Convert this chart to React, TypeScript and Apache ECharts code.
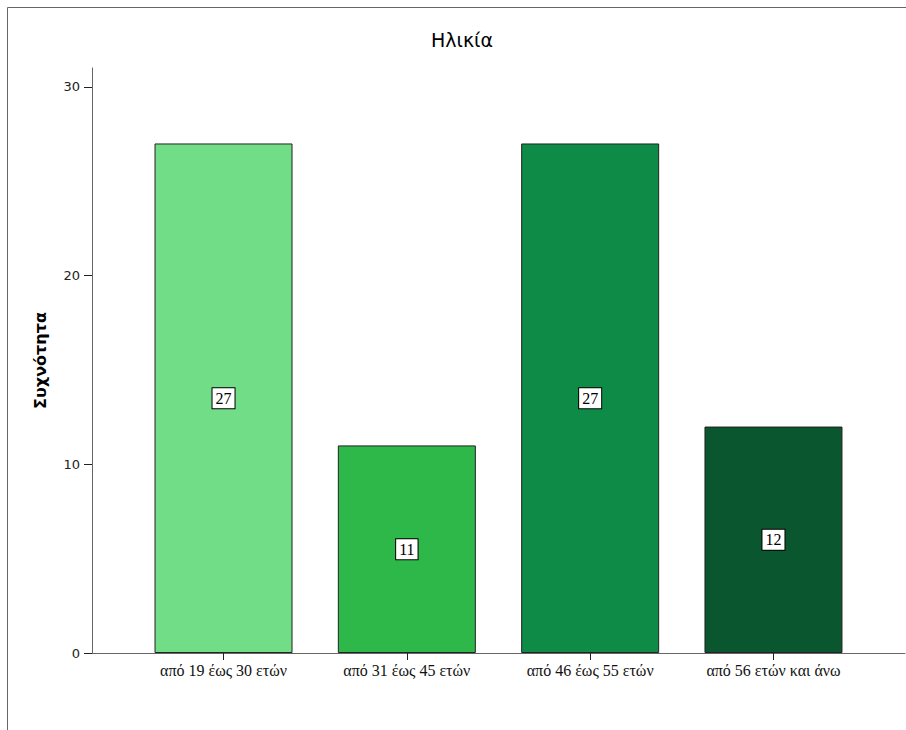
import React, { useEffect, useRef } from "react";
import * as echarts from "echarts";

const categories = ["από 19 έως 30 ετών", "από 31 έως 45 ετών", "από 46 έως 55 ετών", "από 56 ετών και άνω"];
const counts = [27, 11, 27, 12];
const barColors = ["#72DD87", "#2EB84A", "#0E8C47", "#0A562E"];
const yTicks = [0, 10, 20, 30];
const titleText = "Ηλικία";
const yName = "Συχνότητα";

export default function App() {
  const ref = useRef<HTMLDivElement>(null);
  useEffect(() => {
    if (!ref.current) return;
    const chart = echarts.init(ref.current, undefined, { renderer: "svg" });
    const positions = categories.map((_, i) => i);
    chart.setOption({
      animation: false,
      backgroundColor: "#ffffff",
      graphic: [
        {
          type: "rect",
          shape: { x: 7.5, y: 7.5, width: 1000, height: 1000 },
          style: { fill: "none", stroke: "#666", lineWidth: 1 },
          silent: true,
        },
        {
          type: "text",
          x: 462,
          y: 40,
          style: {
            text: titleText,
            font: '19px "DejaVu Sans"',
            fill: "#000",
            align: "center",
            verticalAlign: "middle",
          },
        },
      ],
      grid: { left: 92, top: 68, right: 1, bottom: 77, containLabel: false },
      xAxis: {
        type: "value",
        min: -0.7175,
        max: 3.7175,
        splitLine: { show: false },
        axisLine: { show: true, onZero: false, lineStyle: { color: "#666", width: 1 } },
        axisTick: {
          show: true,
          customValues: positions,
          length: 7,
          lineStyle: { color: "#222" },
        },
        axisLabel: {
          customValues: positions,
          formatter: (v: number) => categories[Math.round(v)] ?? "",
          fontFamily: '"Liberation Serif", serif',
          fontSize: 16,
          color: "#111",
          margin: 9,
        },
      },
      yAxis: {
        type: "value",
        min: 0,
        max: 31,
        interval: 10,
        name: yName,
        nameLocation: "middle",
        nameGap: 44,
        nameTextStyle: {
          fontFamily: '"DejaVu Sans"',
          fontWeight: "bold",
          fontSize: 16,
          color: "#000",
        },
        splitLine: { show: false },
        axisLine: { show: true, onZero: false, lineStyle: { color: "#666", width: 1 } },
        axisTick: { show: true, customValues: yTicks, length: 8, lineStyle: { color: "#222" } },
        axisLabel: {
          customValues: yTicks,
          fontFamily: '"DejaVu Sans"',
          fontSize: 13,
          color: "#222",
          margin: 12,
        },
      },
      series: [
        {
          type: "bar",
          barWidth: 138,
          data: counts.map((c, i) => ({
            value: [i, c],
            itemStyle: { color: barColors[i], borderColor: "#222", borderWidth: 1 },
          })),
          label: {
            show: true,
            position: "inside",
            formatter: (p: any) => String(p.value[1]),
            fontFamily: '"Liberation Serif", serif',
            fontSize: 16,
            color: "#000",
            backgroundColor: "#fff",
            borderColor: "#000",
            borderWidth: 1,
            padding: [3, 3, 1, 3],
          },
        },
      ],
    });
    return () => chart.dispose();
  }, []);
  return (
    <div
      ref={ref}
      style={{ position: "absolute", left: 0, top: 0, width: 906, height: 730 }}
    />
  );
}
